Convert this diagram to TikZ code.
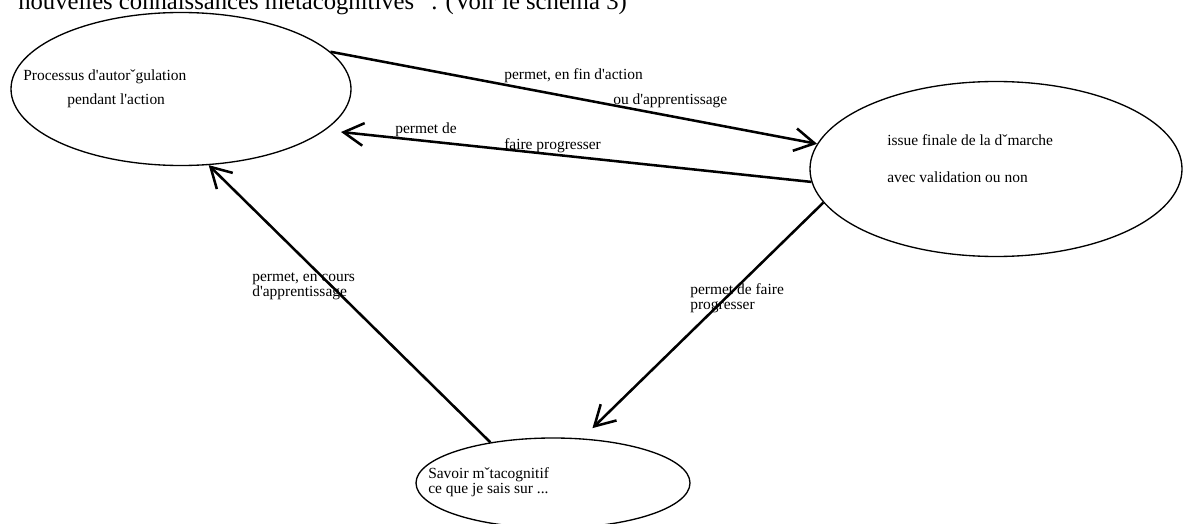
\documentclass[tikz,border=0pt]{standalone}
\usepackage{fontspec}
\setmainfont{Liberation Serif}[Ligatures=TeXOff]
\usetikzlibrary{shapes.geometric,arrows.meta}

\begin{document}
\begin{tikzpicture}[x=0.75pt,y=-0.75pt,
  bubble/.style={draw,ellipse,line width=1pt,inner sep=0pt},
  link/.style={line width=1.9pt,-{Straight Barb[length=15pt,width=17pt]}},
  lbl/.style={anchor=west,inner sep=0pt,align=left,
    font=\fontsize{11.6}{11.3}\selectfont}]
  \useasboundingbox (0,0) rectangle (1184,524);
  \clip (0,0) rectangle (1184,524);
  % cut-off line of the page above the figure
  \node[anchor=base west,inner sep=0pt,font=\fontsize{18.5}{22}\selectfont] (head)
    at (18,9.5) {nouvelles connaissances métacognitives ”. (Voir le schéma 3)};
  % the three ellipses
  \node[bubble,minimum width=255pt,minimum height=114.75pt] (autoreg) at (181,89) {};
  \node[bubble,minimum width=279pt,minimum height=131.25pt] (issue) at (996,169) {};
  \node[bubble,minimum width=205.5pt,minimum height=67.5pt] (savoir) at (553,483) {};
  \node[lbl] (autoregtxt) at (23,89)
    {Processus d'autorˇgulation\\[6.7pt]\hspace*{33pt}pendant l'action};
  \node[lbl] (issuetxt) at (887,158.5)
    {issue finale de la dˇmarche\\[16.5pt]avec validation ou non};
  \node[lbl] (savoirtxt) at (428,482)
    {Savoir mˇtacognitif\\ce que je sais sur ...};
  % connectors
  \draw[link] (autoreg.14) -- (issue.172);
  \draw[link,shorten >=12pt] (issue.184) -- (autoreg.-16);
  \draw[link] (savoir.147) -- (autoreg.-70);
  \draw[link,shorten >=11pt] (issue.191) -- (savoir.57);
  % labels on the connectors
  \node[lbl] (finaction) at (504,76) {permet, en fin d'action};
  \node[lbl] (ouappr) at (613,101) {ou d'apprentissage};
  \node[lbl] (permetde) at (395,130) {permet de};
  \node[lbl] (faireprog) at (504,146) {faire progresser};
  \node[lbl] (encours) at (252,286) {permet, en cours\\d'apprentissage};
  \node[lbl] (faireprog2) at (690,298) {permet de faire\\progresser};
\end{tikzpicture}
\end{document}
